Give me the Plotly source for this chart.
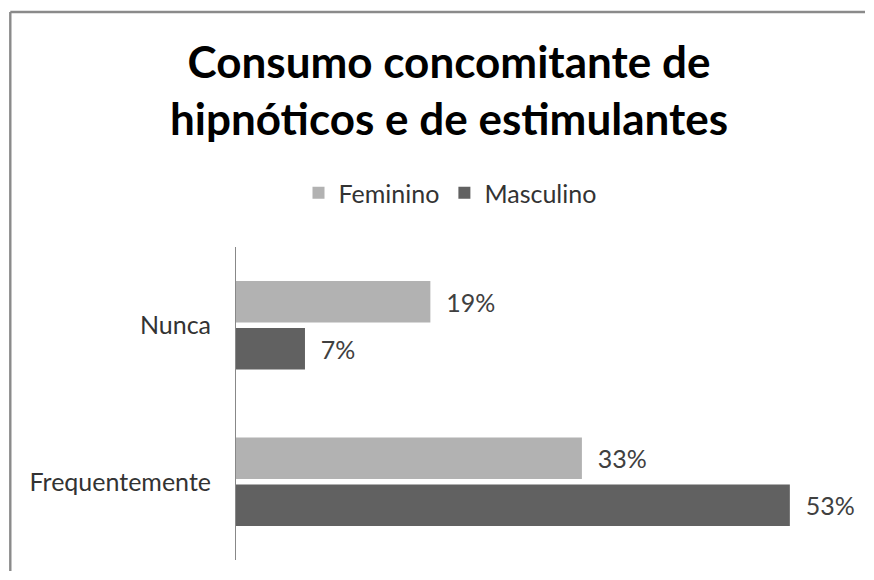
import plotly.graph_objects as go

categories = ["Nunca", "Frequentemente"]
feminino = [18.6, 33.1]
masculino = [6.6, 53.0]
series_names = ["Feminino", "Masculino"]
title_text = "Consumo concomitante de<br>hipnóticos e de estimulantes"

# The page body adds an 8px margin on every side; keep the figure inside the window.
W, H = 858, 564
ML, MT = 228, 239
PW, PH = 627, 313
MR, MB = W - ML - PW, H - MT - PH
FONT = "Lato, 'Open Sans', sans-serif"
pad = "\u00a0\u00a0"

fig = go.Figure()
fig.add_trace(go.Bar(
    y=categories, x=feminino, name=series_names[0], orientation="h",
    marker=dict(color="#b2b2b2", line=dict(width=0)),
    texttemplate=pad + "%{x:.0f}%", textposition="outside", cliponaxis=False,
    textfont=dict(size=25, color="#404040", family=FONT),
))
fig.add_trace(go.Bar(
    y=categories, x=masculino, name=series_names[1], orientation="h",
    marker=dict(color="#616161", line=dict(width=0)),
    texttemplate=pad + "%{x:.0f}%", textposition="outside", cliponaxis=False,
    textfont=dict(size=25, color="#404040", family=FONT),
))

fig.update_layout(
    width=W, height=H,
    margin=dict(l=ML, r=MR, t=MT, b=MB, pad=0),
    paper_bgcolor="white", plot_bgcolor="white",
    font=dict(family=FONT, color="#333333"),
    title=dict(text="<b>" + title_text + "</b>", x=441 / W, xanchor="center", xref="container",
               y=1 - 70 / H, yanchor="middle", yref="container",
               font=dict(size=44, color="#000000", family=FONT)),
    legend=dict(orientation="h", x=442 / W, xanchor="center", xref="container",
                y=1 - 185 / H, yanchor="middle", yref="container",
                font=dict(size=25, color="#333333", family=FONT),
                itemwidth=30, traceorder="normal"),
    barmode="group", bargap=0.4, bargroupgap=0.12,
    showlegend=True,
)
fig.update_xaxes(range=[0, 60], visible=False, showgrid=False, zeroline=False)
fig.update_yaxes(autorange="reversed", showline=True, linecolor="#888888", linewidth=1,
                 ticks="", showgrid=False, zeroline=False, ticklabelstandoff=19,
                 tickfont=dict(size=25, color="#333333", family=FONT))

# chart frame: left edge and top edge only (the rest lies outside the picture)
fx0 = (2.3 - ML) / PW
fy1 = 1 + (MT - 4) / PH
fig.add_shape(type="line", xref="paper", yref="paper",
              x0=fx0, x1=fx0, y0=-(MB - 1) / PH, y1=fy1,
              line=dict(color="#8a8a8a", width=2.4), layer="below")
fig.add_shape(type="line", xref="paper", yref="paper",
              x0=fx0, x1=1 + (MR - 1) / PW, y0=fy1, y1=fy1,
              line=dict(color="#8a8a8a", width=2.4), layer="below")

fig.write_html("out.html")
